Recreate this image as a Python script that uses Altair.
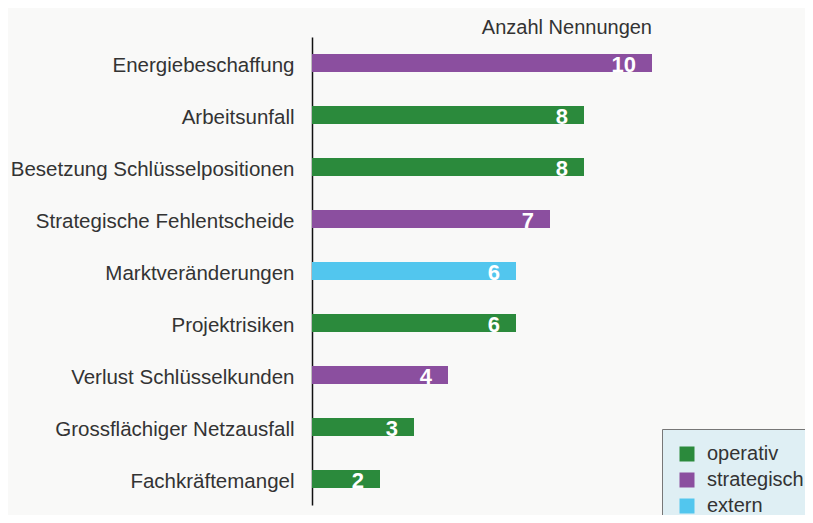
import altair as alt
import pandas as pd

categories = ["Energiebeschaffung", "Arbeitsunfall", "Besetzung Schlüsselpositionen",
              "Strategische Fehlentscheide", "Marktveränderungen", "Projektrisiken",
              "Verlust Schlüsselkunden", "Grossflächiger Netzausfall", "Fachkräftemangel"]
values = [10, 8, 8, 7, 6, 6, 4, 3, 2]
types = ["strategisch", "operativ", "operativ", "strategisch", "extern", "operativ",
         "strategisch", "operativ", "operativ"]
type_order = ["operativ", "strategisch", "extern"]
type_colors = ["#2b8a3c", "#8b4f9f", "#52c6ee"]

df = pd.DataFrame({"kategorie": categories, "wert": values, "typ": types})

y_enc = alt.Y("kategorie:N", sort=categories,
              scale=alt.Scale(paddingInner=0.65, paddingOuter=0.325),
              axis=alt.Axis(title=None, ticks=False, domainColor="#111", domainWidth=1.5,
                            labelFontSize=20.5, labelColor="#333", labelPadding=18,
                            labelOffset=3,
                            labelLimit=400, labelFont="Liberation Sans", grid=False))
x_enc = alt.X("wert:Q", scale=alt.Scale(domain=[0, 10]), axis=None)

bars = alt.Chart(df).mark_bar().encode(
    x=x_enc, y=y_enc,
    color=alt.Color("typ:N", scale=alt.Scale(domain=type_order, range=type_colors),
                    legend=alt.Legend(title=None, orient="none", legendX=350, legendY=392,
                                      symbolType="square", symbolSize=225,
                                      symbolStrokeWidth=0, labelFontSize=20,
                                      labelColor="#333", labelFont="Liberation Sans",
                                      rowPadding=6, padding=15, fillColor="#dfeff4",
                                      strokeColor="#777", labelOffset=10)),
)

labels = alt.Chart(df).mark_text(align="right", baseline="middle", dx=-16, dy=2,
                                 color="white", fontWeight="bold", fontSize=22,
                                 font="Liberation Sans").encode(
    x=x_enc, y=alt.Y("kategorie:N", sort=categories), text="wert:Q")

chart = (bars + labels).properties(
    width=340, height=468,
    title=alt.TitleParams("Anzahl Nennungen", anchor="end", frame="group", fontSize=20,
                          fontWeight="normal", color="#333", font="Liberation Sans",
                          offset=-1),
    autosize=alt.AutoSizeParams(type="none"),
    padding={"left": 304, "top": 29, "right": 153, "bottom": 10},
    background="#f9f9f8",
).configure_view(stroke=None)

chart.save("out.html", embed_options={"renderer": "svg", "actions": False})
